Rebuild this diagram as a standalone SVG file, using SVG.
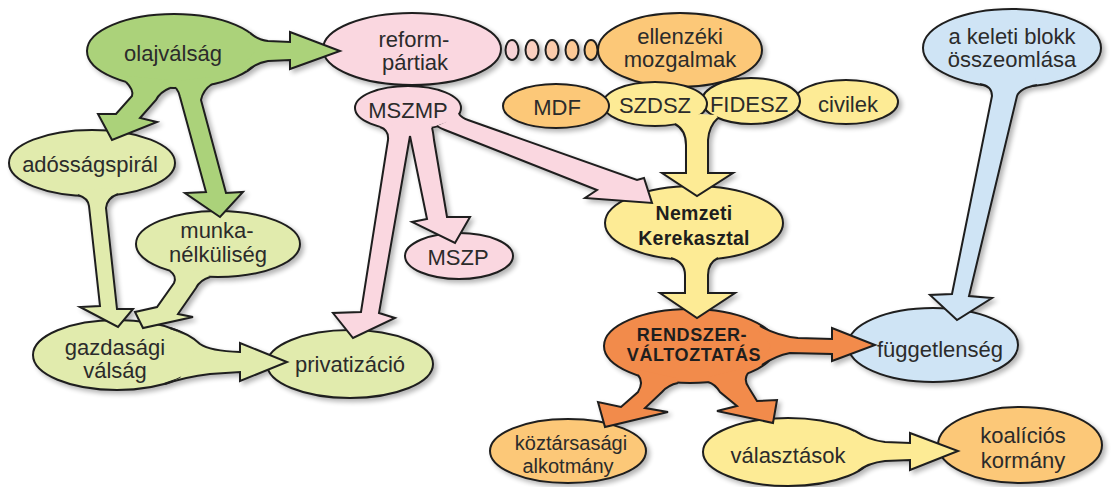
<svg xmlns="http://www.w3.org/2000/svg" xmlns:xlink="http://www.w3.org/1999/xlink" width="1120" height="487" viewBox="0 0 1120 487">
<style>
.n{stroke:#1e1e1e;stroke-width:2}
.g1{fill:#abd27a}.g2{fill:#e1ebad}.pk{fill:#fad7e0}.or{fill:#fcc878}.ye{fill:#fdeb95}.rd{fill:#f28b4b}.bl{fill:#cfe4f5}
.af{stroke:none}
.al{fill:none;stroke:#1e1e1e;stroke-width:2;stroke-linejoin:miter}
.t{font-family:'Liberation Sans',Arial,sans-serif;font-size:22px;fill:#2b2b2b;text-anchor:middle}
.s{font-size:20px}
.b{font-weight:bold;fill:#1e1e1e}
.b1{font-size:19.5px;letter-spacing:0.3px}
.b2{font-size:18px;letter-spacing:0.6px}
</style>
<defs>
<filter id="sh" x="-5%" y="-5%" width="115%" height="120%">
<feOffset in="SourceAlpha" dx="3" dy="3"/>
<feGaussianBlur stdDeviation="2.5"/>
<feComponentTransfer><feFuncA type="linear" slope="0.3"/></feComponentTransfer>
</filter>
</defs>
<rect width="1120" height="487" fill="#ffffff"/>
<g id="shadow" filter="url(#sh)"><use href="#nodes" xlink:href="#nodes"/><use href="#connectors" xlink:href="#connectors"/></g>
<g id="nodes">
<g id="n-olajvalsag"><ellipse class="n g1" cx="174" cy="51" rx="87" ry="37"/><text class="t" x="173" y="61">olajválság</text></g>
<g id="n-reformpartiak"><ellipse class="n pk" cx="412" cy="49" rx="89" ry="36"/><text class="t" x="414" y="47">reform-</text><text class="t" x="415" y="70">pártiak</text></g>
<g id="n-mszmp"><ellipse class="n pk" cx="408" cy="108" rx="53" ry="22"/><text class="t" x="408" y="118">MSZMP</text></g>
<g id="n-ellenzeki"><ellipse class="n or" cx="680" cy="50" rx="82" ry="37"/><text class="t" x="680" y="44">ellenzéki</text><text class="t" x="680" y="67">mozgalmak</text></g>
<g id="n-civilek"><ellipse class="n ye" cx="846" cy="102" rx="52" ry="22"/><text class="t" x="848" y="112">civilek</text></g>
<g id="n-fidesz"><ellipse class="n ye" cx="751" cy="101" rx="49" ry="23"/><text class="t" x="749" y="112">FIDESZ</text></g>
<g id="n-szdsz"><ellipse class="n ye" cx="655" cy="104" rx="52" ry="22"/><text class="t" x="655" y="113">SZDSZ</text></g>
<g id="n-mdf"><ellipse class="n or" cx="556" cy="106" rx="53" ry="22"/><text class="t" x="557" y="115">MDF</text></g>
<g id="n-keleti"><ellipse class="n bl" cx="1012" cy="48" rx="89" ry="39"/><text class="t" x="1012" y="44">a keleti blokk</text><text class="t" x="1012" y="67">összeomlása</text></g>
<g id="n-adossag"><ellipse class="n g2" cx="92" cy="163" rx="83" ry="33"/><text class="t" x="90" y="172">adósságspirál</text></g>
<g id="n-munka"><ellipse class="n g2" cx="218" cy="244" rx="82" ry="33"/><text class="t" x="217" y="238">munka-</text><text class="t" x="218" y="262">nélküliség</text></g>
<g id="n-gazdasagi"><ellipse class="n g2" cx="117" cy="355" rx="84" ry="35"/><text class="t" x="115" y="355">gazdasági</text><text class="t" x="115" y="378">válság</text></g>
<g id="n-privatizacio"><ellipse class="n g2" cx="350" cy="364" rx="83" ry="34"/><text class="t" x="350" y="372">privatizáció</text></g>
<g id="n-mszp"><ellipse class="n pk" cx="459" cy="256" rx="54" ry="23"/><text class="t" x="458" y="265">MSZP</text></g>
<g id="n-nemzeti"><ellipse class="n ye" cx="694" cy="223" rx="89" ry="37"/><text class="t b b1" x="694" y="220">Nemzeti</text><text class="t b b1" x="694" y="245">Kerekasztal</text></g>
<g id="n-rendszer"><ellipse class="n rd" cx="690" cy="346" rx="86" ry="37"/><text class="t b b2" x="692" y="341">RENDSZER-</text><text class="t b b2" x="694" y="361">VÁLTOZTATÁS</text></g>
<g id="n-fuggetlenseg"><ellipse class="n bl" cx="933" cy="345" rx="85" ry="37"/><text class="t" x="940" y="357">függetlenség</text></g>
<g id="n-koztarsasagi"><ellipse class="n or" cx="568" cy="451" rx="78" ry="32"/><text class="t s" x="571" y="450">köztársasági</text><text class="t s" x="568" y="473">alkotmány</text></g>
<g id="n-valasztasok"><ellipse class="n ye" cx="788" cy="452" rx="85" ry="34"/><text class="t" x="788" y="463">választások</text></g>
<g id="n-koalicios"><ellipse class="n or" cx="1020" cy="445" rx="82" ry="38"/><text class="t" x="1023" y="443">koalíciós</text><text class="t" x="1023" y="468">kormány</text></g>
</g>
<g id="connectors">
<g id="c-olaj-reform" class="g1"><path class="af" d="M250,33 Q258,40 268,41 L290,42 L290,32 L340,51 L290,69 L290,60 L268,61 Q256,63 247,71 L242,67 L255,51 L245,36 Z"/><path class="al" d="M250,33 Q258,40 268,41 L290,42 L290,32 L340,51 L290,69 L290,60 L268,61 Q256,63 247,71"/></g>
<g id="c-olaj-adossag" class="g1"><path class="af" d="M126,82 Q134,90 132,96 L116,114 L98,114 L112,140 L157,122 L140,118 L156,100 Q160,92 170,88 L168,80 L128,76 Z"/><path class="al" d="M126,82 Q134,90 132,96 L116,114 L98,114 L112,140 L157,122 L140,118 L156,100 Q160,92 170,88"/></g>
<g id="c-olaj-munka" class="g1"><path class="af" d="M176,88 Q179,92 180,97 L206,192 L185,193 L220,217 L243,192 L226,193 L201,100 Q203,90 212,84 L210,77 L178,81 Z"/><path class="al" d="M176,88 Q179,92 180,97 L206,192 L185,193 L220,217 L243,192 L226,193 L201,100 Q203,90 212,84"/></g>
<g id="c-adossag-gazdasagi" class="g2"><path class="af" d="M78,195 Q88,198 89,206 L100,306 L80,307 L118,327 L133,309 L117,309 L106,208 Q107,198 118,194 L116,188 L80,190 Z"/><path class="al" d="M78,195 Q88,198 89,206 L100,306 L80,307 L118,327 L133,309 L117,309 L106,208 Q107,198 118,194"/></g>
<g id="c-munka-gazdasagi" class="g2"><path class="af" d="M170,271 Q177,276 174,283 L157,307 L135,312 L143,328 L193,317 L178,314 L196,288 Q200,280 210,277 L206,272 L174,267 Z"/><path class="al" d="M170,271 Q177,276 174,283 L157,307 L135,312 L143,328 L193,317 L178,314 L196,288 Q200,280 210,277"/></g>
<g id="c-gazdasagi-privatizacio" class="g2"><path class="af" d="M170,328 Q190,334 200,344 Q210,351 240,352 L240,343 L287,362 L240,381 L240,372 L210,374 Q185,377 165,384 L180,378 L195,355 L182,334 Z"/><path class="al" d="M170,328 Q190,334 200,344 Q210,351 240,352 L240,343 L287,362 L240,381 L240,372 L210,374 Q185,377 165,384"/></g>
<g id="c-mszmp-privatizacio" class="pk"><path class="af" d="M380,127 Q389,130 388,140 L361,312 L333,313 L353,338 L395,318 L379,313 L410,136 L410,127 L382,124 Z"/><path class="al" d="M380,127 Q389,130 388,140 L361,312 L333,313 L353,338 L395,318 L379,313 L410,136"/></g>
<g id="c-mszmp-mszp" class="pk"><path class="af" d="M410,136 L427,219 L412,222 L455,243 L470,217 L447,217 L434,140 Q433,131 432,128 L430,125 L410,127 Z"/><path class="al" d="M410,136 L427,219 L412,222 L455,243 L470,217 L447,217 L434,140 Q433,131 432,128"/></g>
<g id="c-mszmp-nemzeti" class="pk"><path class="af" d="M459,114 Q462,118 468,120 L637,180 L644,178 L652,203 L585,198 L597,190 L445,130 Q440,128 437,126 L446,122 L455,114 Z"/><path class="al" d="M459,114 Q462,118 468,120 L637,180 L644,178 L652,203 L585,198 L597,190 L445,130 Q440,128 437,126"/></g>
<g id="c-reform-ellenzeki" class="n">
<ellipse cx="512" cy="50" rx="6.5" ry="10" fill="#f8d3d6"/>
<ellipse cx="532" cy="50" rx="6.5" ry="10" fill="#f9cfc0"/>
<ellipse cx="552" cy="50" rx="6.5" ry="10" fill="#facbab"/>
<ellipse cx="572" cy="50" rx="6.5" ry="10" fill="#fbc895"/>
<ellipse cx="591" cy="50" rx="6.5" ry="10" fill="#fcc67f"/>
</g>
<g id="c-ellenzek-nemzeti" class="ye"><path class="af" d="M675,124 Q686,130 686,145 L686,173 L662,173 L697,196 L733,173 L708,173 L708,140 Q709,126 718,118 L716,115 L700,114 L680,120 Z"/><path class="al" d="M675,124 Q686,130 686,145 L686,173 L662,173 L697,196 L733,173 L708,173 L708,140 Q709,126 718,118"/></g>
<g id="c-nemzeti-rendszer" class="ye"><path class="af" d="M671,258 Q685,262 685,275 L685,293 L660,293 L697,318 L735,293 L708,293 L708,275 Q708,263 718,258 L716,252 L673,252 Z"/><path class="al" d="M671,258 Q685,262 685,275 L685,293 L660,293 L697,318 L735,293 L708,293 L708,275 Q708,263 718,258"/></g>
<g id="c-rendszer-fuggetlenseg" class="rd"><path class="af" d="M760,326 Q778,336 798,338 L832,339 L832,328 L875,345 L832,361 L832,354 L790,353 Q775,356 762,365 L761,361 L771,346 L758,330 Z"/><path class="al" d="M760,326 Q778,336 798,338 L832,339 L832,328 L875,345 L832,361 L832,354 L790,353 Q775,356 762,365"/></g>
<g id="c-rendszer-koztarsasagi" class="rd"><path class="af" d="M638,375 Q644,382 638,392 L621,407 L598,402 L605,427 L668,412 L645,408 L662,392 Q668,385 678,383 L676,378 L640,370 Z"/><path class="al" d="M638,375 Q644,382 638,392 L621,407 L598,402 L605,427 L668,412 L645,408 L662,392 Q668,385 678,383"/></g>
<g id="c-rendszer-valasztasok" class="rd"><path class="af" d="M708,382 Q715,384 720,392 L737,406 L717,411 L773,423 L777,400 L757,401 L749,388 Q743,380 748,373 L744,368 L708,377 Z"/><path class="al" d="M708,382 Q715,384 720,392 L737,406 L717,411 L773,423 L777,400 L757,401 L749,388 Q743,380 748,373"/></g>
<g id="c-keleti-fuggetlenseg" class="bl"><path class="af" d="M980,84 Q992,86 992,96 L952,294 L930,295 L957,320 L992,298 L969,296 L1017,96 Q1020,88 1037,85 L1035,78 L982,78 Z"/><path class="al" d="M980,84 Q992,86 992,96 L952,294 L930,295 L957,320 L992,298 L969,296 L1017,96 Q1020,88 1037,85"/></g>
<g id="c-valasztasok-koalicios" class="ye"><path class="af" d="M855,431 Q868,440 885,442 L910,443 L910,433 L958,451 L910,470 L910,460 L885,461 Q868,463 858,471 L856,465 L866,452 L852,436 Z"/><path class="al" d="M855,431 Q868,440 885,442 L910,443 L910,433 L958,451 L910,470 L910,460 L885,461 Q868,463 858,471"/></g>
</g>
</svg>
